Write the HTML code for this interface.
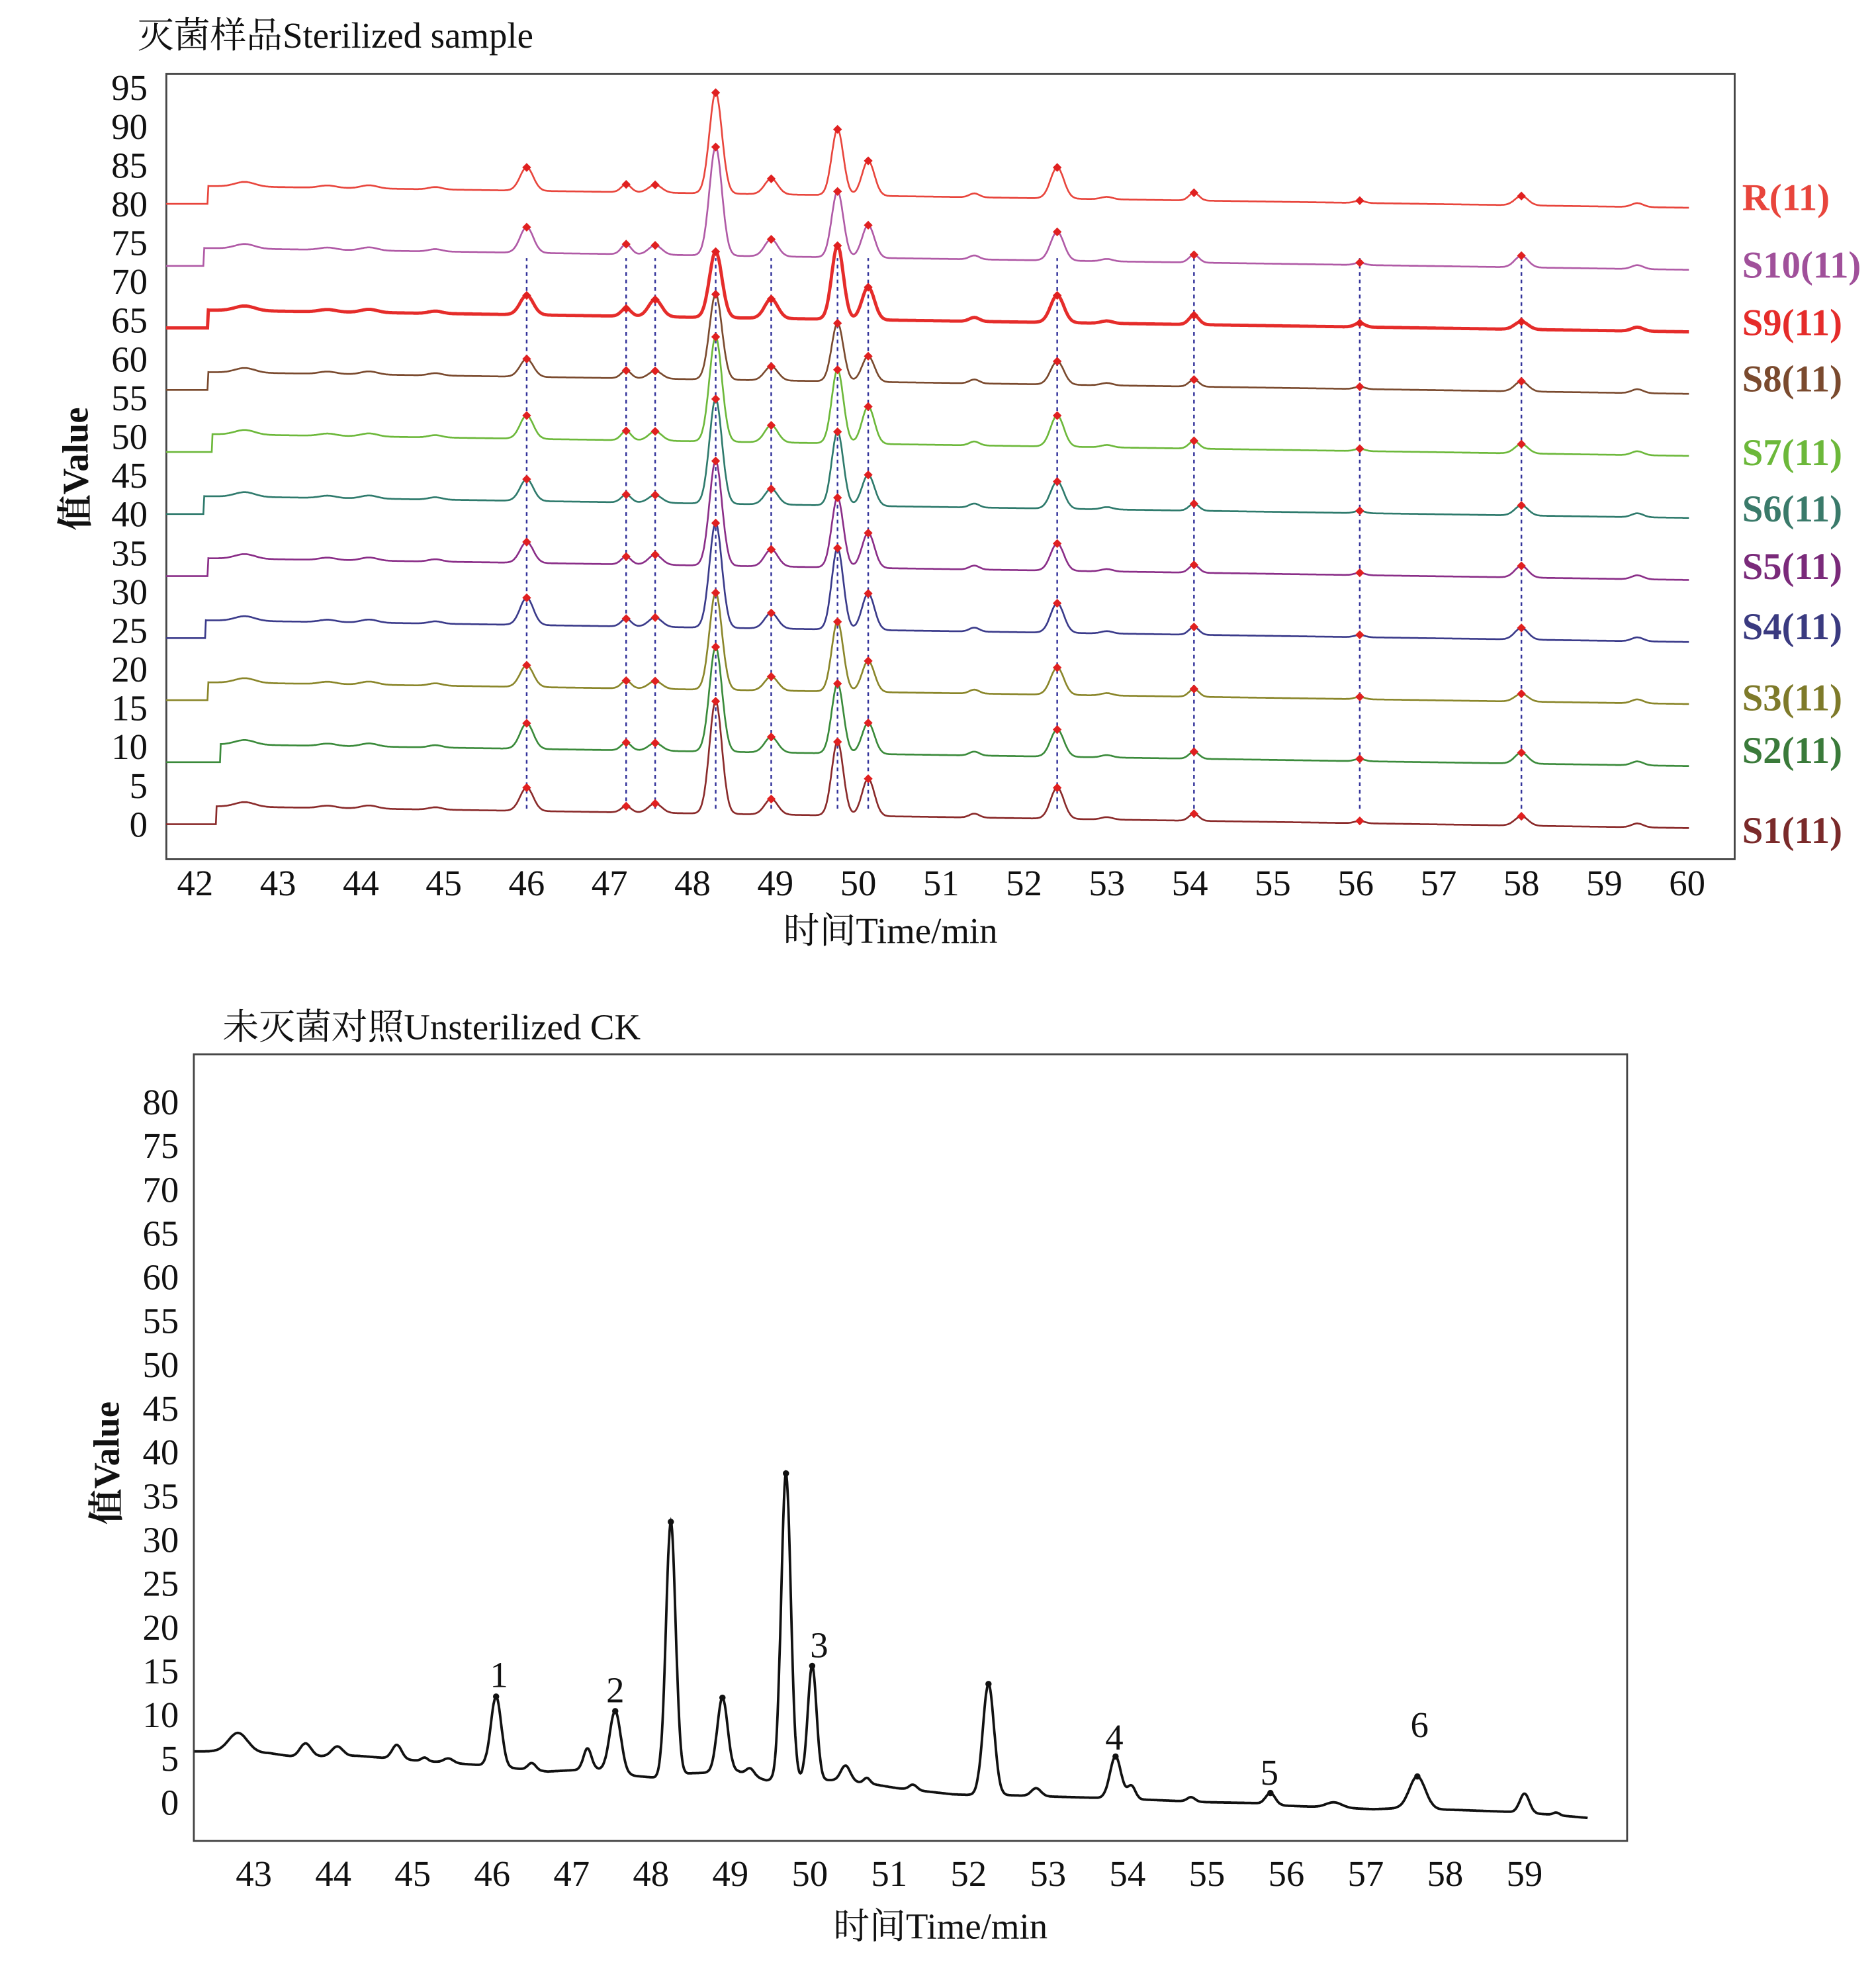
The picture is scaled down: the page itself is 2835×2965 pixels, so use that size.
<!DOCTYPE html>
<html><head><meta charset="utf-8">
<style>
html,body{margin:0;padding:0;background:#fff;}
svg{display:block;}
text{font-family:"Liberation Serif","Noto Serif CJK SC",serif;}
</style></head>
<body>
<svg id="s" width="2835" height="2965" viewBox="0 0 1500 1568.78" xmlns="http://www.w3.org/2000/svg">
<rect width="1500" height="1569" fill="#fff"/>
<text x="110" y="38" font-size="29" fill="#111">灭菌样品Sterilized sample</text>
<rect x="133" y="59" width="1254" height="628" fill="none" stroke="#444" stroke-width="1.5"/>
<g id="top"></g>
<g font-size="29" fill="#111" text-anchor="end" id="ytop"></g>
<g font-size="29" fill="#111" text-anchor="middle" id="xtop"></g>
<text x="712" y="754" font-size="29" text-anchor="middle" fill="#111">时间Time/min</text>
<text transform="translate(70,375) rotate(-90)" font-size="29" font-weight="bold" text-anchor="middle" fill="#111">值Value</text>
<g font-size="30" font-weight="bold" id="lbl">
<text x="1393" y="168" fill="#e8453c">R(11)</text>
<text x="1393" y="222" fill="#a0509a">S10(11)</text>
<text x="1393" y="268" fill="#e52c2a">S9(11)</text>
<text x="1393" y="313" fill="#7a4a2e">S8(11)</text>
<text x="1393" y="372" fill="#6cb83a">S7(11)</text>
<text x="1393" y="417" fill="#3a7a6a">S6(11)</text>
<text x="1393" y="463" fill="#7a2a7a">S5(11)</text>
<text x="1393" y="511" fill="#3a3a80">S4(11)</text>
<text x="1393" y="568" fill="#7e7a2a">S3(11)</text>
<text x="1393" y="610" fill="#3a7a3a">S2(11)</text>
<text x="1393" y="674" fill="#7a2a2a">S1(11)</text>
</g>
<text x="178" y="831" font-size="29" fill="#111">未灭菌对照Unsterilized CK</text>
<rect x="155" y="843" width="1146" height="629" fill="none" stroke="#444" stroke-width="1.5"/>
<g id="bot"></g>
<g font-size="29" fill="#111" text-anchor="end" id="ybot"></g>
<g font-size="29" fill="#111" text-anchor="middle" id="xbot"></g>
<text x="752" y="1550" font-size="29" text-anchor="middle" fill="#111">时间Time/min</text>
<text transform="translate(95,1170) rotate(-90)" font-size="29" font-weight="bold" text-anchor="middle" fill="#111">值Value</text>
<g font-size="29" fill="#111" text-anchor="middle">
<text x="399" y="1349">1</text>
<text x="492" y="1361">2</text>
<text x="655" y="1325">3</text>
<text x="891" y="1399">4</text>
<text x="1015" y="1427">5</text>
<text x="1135" y="1389">6</text>
</g>
</svg>
<script>
const NS="http://www.w3.org/2000/svg";
function el(p,t,a,txt){const e=document.createElementNS(NS,t);for(const k in a)e.setAttribute(k,a[k]);if(txt!==undefined)e.textContent=txt;document.getElementById(p).appendChild(e);return e;}
const TX=m=>156+(m-42)*66.28, TY=v=>659-v*6.2;
for(let v=0;v<=95;v+=5){el('ytop','text',{x:118,y:TY(v)+10},String(v));}
for(let m=42;m<=60;m++){el('xtop','text',{x:TX(m),y:716},String(m));}
function g(x,c,s){return Math.exp(-((x-c)*(x-c))/(2*s*s));}
const peaks=[46,47.2,47.55,48.28,48.95,49.75,50.12,52.4,54.05,56.05,58];
const series=[
 {b:80,c:"#e8453c",st:42.15,h:[3,1,1,13,2,8.5,4.5,4,1,0.3,1.2],w:1.4},
 {b:72,c:"#b05aa6",st:42.1,h:[3.3,1.3,1.2,14,2.2,8.5,4.2,3.7,1,0.3,1.5],w:1.4},
 {b:64,c:"#e52c2a",st:42.15,h:[2.5,1,2.2,8.5,2.5,9.5,4.2,3.5,1.2,0.5,1],w:2.6},
 {b:56,c:"#7a4a2e",st:42.15,h:[2.3,1,1,11,1.8,7.5,3.3,3,0.9,0.3,1.3],w:1.4},
 {b:48,c:"#6cb83a",st:42.2,h:[3,1.2,1.2,13.5,2.2,9.5,4.8,4,1,0.3,1.2],w:1.4},
 {b:40,c:"#2e7a6c",st:42.1,h:[2.8,1,1,13.5,2,9.5,4,3.5,0.9,0.3,1.3],w:1.4},
 {b:32,c:"#8a2e88",st:42.15,h:[2.7,1,1.3,13.5,2.2,9,4.5,3.5,1,0.3,1.5],w:1.4},
 {b:24,c:"#3a3a8a",st:42.12,h:[3.5,1,1.2,13.5,2,10.5,4.7,3.8,1,0.3,1.5],w:1.4},
 {b:16,c:"#8a862a",st:42.15,h:[2.8,1,1,12.5,1.8,9,4,3.5,1,0.3,1],w:1.4},
 {b:8,c:"#3a8a3a",st:42.3,h:[3.3,1,1,13.5,2,9,4,3.5,0.9,0.3,1.4],w:1.4},
 {b:0,c:"#8a2a2a",st:42.25,h:[3,0.8,1.2,14.5,2,9.5,4.8,4,0.9,0.3,1.2],w:1.4}
];
const sig=[0.08,0.06,0.08,0.075,0.08,0.07,0.075,0.08,0.06,0.06,0.08];
const bumps=[[42.6,0.6,0.12],[43.6,0.3,0.1],[44.1,0.4,0.1],[44.9,0.3,0.08],[51.4,0.5,0.06],[53,0.3,0.07],[59.4,0.5,0.07]];
for(const p of peaks){el('top','line',{x1:TX(p),x2:TX(p),y1:TY(2),y2:TY(73),stroke:"#33339a","stroke-width":1.3,"stroke-dasharray":"3,3"});}
function base(S,m){return S.b+2.3-2.8*(m-S.st)/(60-S.st);}
for(let i=series.length-1;i>=0;i--){
 const S=series[i];let d="";
 for(let m=41.65;m<=60.02;m+=0.01){
  let v=S.b;
  if(m>=S.st){v=base(S,m); for(const b of bumps)v+=b[1]*g(m,b[0],b[2]); for(let k=0;k<peaks.length;k++)v+=S.h[k]*g(m,peaks[k],sig[k]);}
  d+=(d?"L":"M")+TX(m).toFixed(1)+","+TY(v).toFixed(1);
 }
 el('top','path',{d:d,fill:"none",stroke:S.c,"stroke-width":S.w});
 for(let k=0;k<peaks.length;k++){const v=base(S,peaks[k])+S.h[k];
  el('top','rect',{x:TX(peaks[k])-2.5,y:TY(v)-2.5,width:5,height:5,fill:"#e02020",transform:`rotate(45 ${TX(peaks[k])} ${TY(v)})`});}
}
const BX=m=>203+(m-43)*63.5, BY=v=>1441-v*7;
for(let v=0;v<=80;v+=5){el('ybot','text',{x:143,y:BY(v)+10},String(v));}
for(let m=43;m<=59;m++){el('xbot','text',{x:BX(m),y:1508},String(m));}
const bs=[[42.25,5.8],[42.5,5.8],[43.2,5.6],[43.5,5.2],[44.3,5.3],[45,4.8],[45.9,4.2],[46.7,3.5],[47.3,3.8],[47.8,3],[48.05,2.8],[48.5,3.3],[49.1,3.5],[49.45,2.5],[49.9,2.6],[50.3,2.5],[50.7,2.2],[51.1,1.6],[51.8,0.9],[52.1,0.8],[52.5,0.8],[53.2,0.6],[53.6,0.5],[54.2,0.3],[55,0],[55.6,-0.1],[56,-0.4],[57.1,-0.8],[57.4,-0.7],[58.2,-0.9],[58.8,-1.1],[59.3,-1.4],[59.8,-1.8]];
function bl(m){for(let i=0;i<bs.length-1;i++){if(m<=bs[i+1][0]){const a=bs[i],b=bs[i+1];return a[1]+(b[1]-a[1])*(m-a[0])/(b[0]-a[0]);}}return bs[bs.length-1][1];}
const bp=[[42.8,2.2,0.12],[43.65,1.5,0.07],[44.05,1.1,0.07],[44.8,1.6,0.06],[45.15,0.4,0.04],[45.45,0.5,0.06],[46.05,8,0.065],[46.5,0.8,0.05],[47.2,2.4,0.05],[47.55,7,0.07],[48.25,29,0.06],[48.9,8.5,0.065],[49.25,0.8,0.05],[49.7,35,0.06],[50.03,13,0.055],[50.45,1.8,0.06],[50.72,0.6,0.04],[51.3,0.6,0.05],[52.25,12.7,0.07],[52.85,0.9,0.06],[53.85,4.8,0.07],[54.05,1.5,0.05],[54.8,0.5,0.05],[55.8,1.3,0.06],[56.6,0.6,0.1],[57.65,3.7,0.1],[59,2.2,0.06],[59.4,0.3,0.04]];
let d="";
for(let m=42.25;m<=59.8;m+=0.008){let v=bl(m);for(const p of bp)v+=p[1]*g(m,p[0],p[2]);d+=(d?"L":"M")+BX(m).toFixed(1)+","+BY(v).toFixed(1);}
el('bot','path',{d:d,fill:"none",stroke:"#111","stroke-width":2});
for(const m of [46.05,47.55,48.25,48.9,49.7,50.03,52.25,53.85,55.8,57.65]){let v=bl(m);for(const p of bp)v+=p[1]*g(m,p[0],p[2]);el('bot','circle',{cx:BX(m),cy:BY(v),r:2.5,fill:"#111"});}
</script>
</body></html>
